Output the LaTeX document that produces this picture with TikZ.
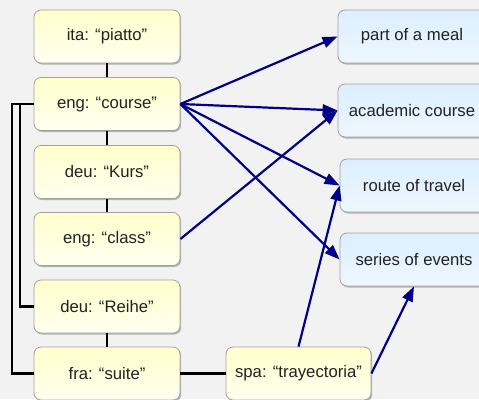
\documentclass[tikz,border=0pt]{standalone}
\usepackage{fontspec}
\setmainfont{Liberation Sans}
\usetikzlibrary{shadows,arrows.meta}
\definecolor{bgc}{HTML}{F2F2F2}
\definecolor{ytop}{HTML}{FFFFCC}
\definecolor{ybot}{HTML}{FFFFF0}
\definecolor{btop}{HTML}{DCEEFF}
\definecolor{bbot}{HTML}{EEF7FF}
\definecolor{edge}{HTML}{A0A0A0}
\definecolor{txt}{HTML}{222222}
\definecolor{navyc}{HTML}{000088}
\tikzset{
  base/.style={rounded corners=7pt, draw=edge, line width=0.8pt, minimum height=53pt,
    text=txt, font=\fontsize{16.7}{20}\selectfont,
    drop shadow={shadow xshift=1.2pt, shadow yshift=-1.5pt, opacity=0.45, fill=black!60}},
  wordbox/.style={base, minimum width=146pt, top color=ytop, bottom color=ybot},
  sensebox/.style={base, minimum width=148pt, top color=btop, bottom color=bbot},
  link/.style={line width=2.2pt, black},
  sense/.style={line width=2.2pt, navyc, -{Triangle[length=15pt,width=11pt]}},
}
\begin{document}
\begin{tikzpicture}[x=1pt,y=-1pt]
\useasboundingbox (0,0) rectangle (479,399);
\clip (0,0) rectangle (479,399);
\fill[bgc] (0,0) rectangle (479,399);
\node[wordbox] (ita) at (107,36.5) {ita: “piatto”};
\node[wordbox] (course) at (107,104) {eng: “course”};
\node[wordbox] (kurs) at (107,172) {deu: “Kurs”};
\node[wordbox] (class) at (107,239) {eng: “class”};
\node[wordbox] (reihe) at (107,306.5) {deu: “Reihe”};
\node[wordbox] (suite) at (107,373.5) {fra: “suite”};
\node[wordbox, minimum width=145pt] (spa) at (298.5,373.5) {spa: “trayectoria”};
\node[sensebox] (meal) at (412,36.5) {part of a meal};
\node[sensebox] (acad) at (412,110.5) {academic course};
\node[sensebox] (route) at (414,185.5) {route of travel};
\node[sensebox] (series) at (414,259.5) {series of events};
\draw[link] (ita) -- (course);
\draw[link] (course) -- (kurs);
\draw[link] (kurs) -- (class);
\draw[link] (reihe) -- (suite);
\draw[link] (suite) -- (spa);
\draw[link] (course.west) -- ++(-22,0) |- (suite.west);
\draw[link] (course.west) -- ++(-14,0) |- (reihe.west);
\draw[sense] (course.east) -- (meal.west);
\draw[sense] (course.east) -- (acad.west);
\draw[sense] (course.east) -- (route.west);
\draw[sense] (course.east) -- (series.west);
\draw[sense] (class.east) -- (acad.west);
\draw[sense] (spa.north) -- (route.west);
\draw[sense] (spa.east) -- (series.south);
\end{tikzpicture}
\end{document}
